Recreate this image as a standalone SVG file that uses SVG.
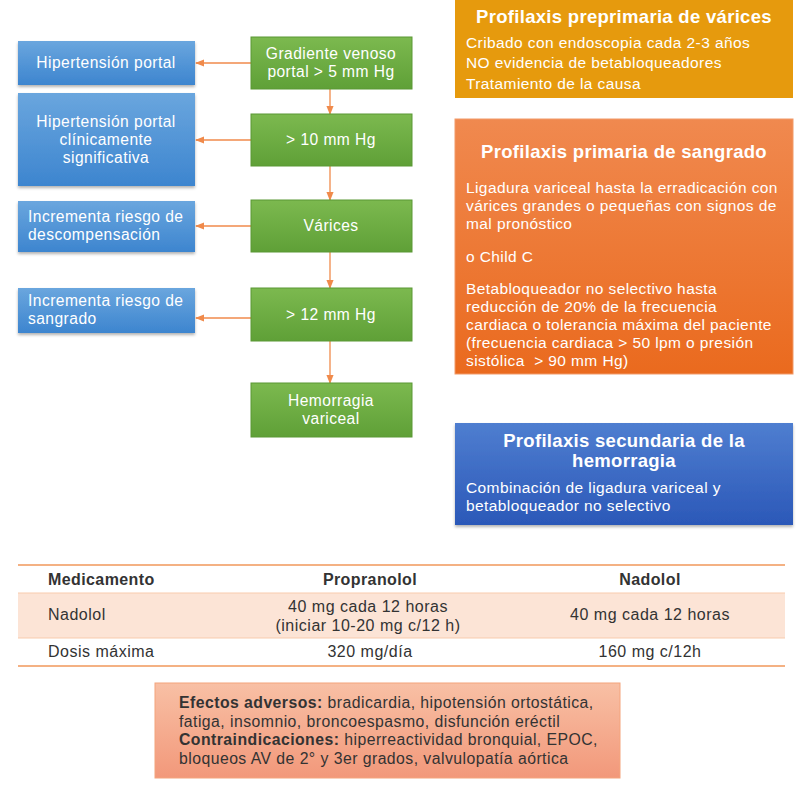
<svg xmlns="http://www.w3.org/2000/svg" width="800" height="803" viewBox="0 0 800 803">
<defs>
<linearGradient id="gBlue" x1="0" y1="0" x2="0" y2="1"><stop offset="0" stop-color="#6aa6de"/><stop offset="1" stop-color="#3d85cf"/></linearGradient>
<linearGradient id="gGreen" x1="0" y1="0" x2="0" y2="1"><stop offset="0" stop-color="#7cb94f"/><stop offset="1" stop-color="#5fa037"/></linearGradient>
<linearGradient id="gOr" x1="0" y1="0" x2="0" y2="1"><stop offset="0" stop-color="#f0894f"/><stop offset="1" stop-color="#ea6a1e"/></linearGradient>
<linearGradient id="gSec" x1="0" y1="0" x2="0" y2="1"><stop offset="0" stop-color="#4f7ed0"/><stop offset="1" stop-color="#2b58b8"/></linearGradient>
<linearGradient id="gPeach" x1="0" y1="0" x2="0" y2="1"><stop offset="0" stop-color="#f8c0a5"/><stop offset="1" stop-color="#f2987a"/></linearGradient>
<marker id="ah" viewBox="0 0 10 10" refX="9" refY="5" markerWidth="7" markerHeight="7" orient="auto"><path d="M0,1 L10,5 L0,9 z" fill="#f08a4b"/></marker>
<filter id="sh" x="-5%" y="-5%" width="110%" height="120%"><feDropShadow dx="0" dy="2" stdDeviation="1.5" flood-color="#000" flood-opacity="0.3"/></filter>
</defs>
<style>
text{font-family:"Liberation Sans",Arial,sans-serif;}
.n{fill:#fff;font-size:15.6px;letter-spacing:0.45px;}
.nc{fill:#fff;font-size:15.6px;letter-spacing:0.45px;text-anchor:middle;}
.w{fill:#fff;font-size:15.5px;letter-spacing:0.4px;}
.wb{fill:#fff;font-size:18.5px;font-weight:bold;text-anchor:middle;letter-spacing:0.3px;}
.bl{fill:url(#gBlue);filter:url(#sh);}
.gr{fill:url(#gGreen);stroke:#5a9834;stroke-width:1;}
.con{stroke:#f08a4b;stroke-width:1.3;fill:none;marker-end:url(#ah);}
.t{fill:#333;font-size:16px;letter-spacing:0.5px;}
.tc{fill:#333;font-size:16px;letter-spacing:0.5px;text-anchor:middle;}
.th{fill:#333;font-size:16px;font-weight:bold;letter-spacing:0.4px;}
.ae{fill:#333;font-size:15.8px;letter-spacing:0.45px;}
</style>
<rect width="800" height="803" fill="#fff"/>

<g id="connectors">
<line class="con" x1="251" y1="63" x2="196" y2="63"/>
<line class="con" x1="251" y1="140" x2="196" y2="140"/>
<line class="con" x1="251" y1="226" x2="196" y2="226"/>
<line class="con" x1="251" y1="318" x2="196" y2="318"/>
<line class="con" x1="330" y1="89" x2="330" y2="114"/>
<line class="con" x1="330" y1="166" x2="330" y2="200"/>
<line class="con" x1="330" y1="252" x2="330" y2="288"/>
<line class="con" x1="330" y1="341" x2="330" y2="383"/>
</g>

<g id="b1"><rect class="bl" x="18" y="41" width="177" height="44"/><text class="nc" x="106" y="68">Hipertensión portal</text></g>
<g id="b2"><rect class="bl" x="18" y="93" width="177" height="93"/><text class="nc" x="106" y="127">Hipertensión portal</text><text class="nc" x="106" y="145">clínicamente</text><text class="nc" x="106" y="163">significativa</text></g>
<g id="b3"><rect class="bl" x="18" y="201" width="177" height="51"/><text class="n" x="28" y="222">Incrementa riesgo de</text><text class="n" x="28" y="240">descompensación</text></g>
<g id="b4"><rect class="bl" x="18" y="288" width="177" height="45"/><text class="n" x="28" y="306">Incrementa riesgo de</text><text class="n" x="28" y="324">sangrado</text></g>

<g id="g1"><rect class="gr" x="251" y="37" width="161" height="52"/><text class="nc" x="331" y="59">Gradiente venoso</text><text class="nc" x="331" y="77">portal &gt; 5 mm Hg</text></g>
<g id="g2"><rect class="gr" x="251" y="114" width="161" height="52"/><text class="nc" x="331" y="145">&gt; 10 mm Hg</text></g>
<g id="g3"><rect class="gr" x="251" y="200" width="161" height="52"/><text class="nc" x="331" y="231">Várices</text></g>
<g id="g4"><rect class="gr" x="251" y="288" width="161" height="53"/><text class="nc" x="331" y="320">&gt; 12 mm Hg</text></g>
<g id="g5"><rect class="gr" x="251" y="383" width="161" height="54"/><text class="nc" x="331" y="406">Hemorragia</text><text class="nc" x="331" y="424">variceal</text></g>

<g id="pre"><rect x="455" y="0" width="338" height="98" fill="#e69a0d"/>
<text class="wb" x="624" y="23">Profilaxis preprimaria de várices</text>
<text class="w" x="466" y="48">Cribado con endoscopia cada 2-3 años</text>
<text class="w" x="466" y="68">NO evidencia de betabloqueadores</text>
<text class="w" x="466" y="89">Tratamiento de la causa</text></g>

<g id="prim"><rect x="455" y="119" width="338" height="255" fill="url(#gOr)" stroke="#f29a68" stroke-width="1"/>
<text class="wb" x="624" y="158">Profilaxis primaria de sangrado</text>
<text class="w" x="466" y="193">Ligadura variceal hasta la erradicación con</text>
<text class="w" x="466" y="211">várices grandes o pequeñas con signos de</text>
<text class="w" x="466" y="229">mal pronóstico</text>
<text class="w" x="466" y="262">o Child C</text>
<text class="w" x="466" y="294">Betabloqueador no selectivo hasta</text>
<text class="w" x="466" y="312">reducción de 20% de la frecuencia</text>
<text class="w" x="466" y="330">cardiaca o tolerancia máxima del paciente</text>
<text class="w" x="466" y="348">(frecuencia cardiaca &gt; 50 lpm o presión</text>
<text class="w" x="466" y="366">sistólica &#160;&gt; 90 mm Hg)</text></g>

<g id="sec"><rect x="455" y="423" width="338" height="102" fill="url(#gSec)" filter="url(#sh)"/>
<text class="wb" x="624" y="447">Profilaxis secundaria de la</text>
<text class="wb" x="624" y="467">hemorragia</text>
<text class="w" x="466" y="493">Combinación de ligadura variceal y</text>
<text class="w" x="466" y="511">betabloqueador no selectivo</text></g>

<g id="table">
<rect x="18" y="593" width="767" height="45" fill="#fce4d6"/>
<line x1="18" y1="565" x2="785" y2="565" stroke="#f4b183" stroke-width="2"/>
<line x1="18" y1="593" x2="785" y2="593" stroke="#f8cbad" stroke-width="1"/>
<line x1="18" y1="638" x2="785" y2="638" stroke="#f8cbad" stroke-width="1"/>
<line x1="18" y1="666" x2="785" y2="666" stroke="#f4b183" stroke-width="2"/>
<text class="th" x="48" y="585">Medicamento</text>
<text class="th" x="370" y="585" text-anchor="middle">Propranolol</text>
<text class="th" x="650" y="585" text-anchor="middle">Nadolol</text>
<text class="t" x="48" y="620">Nadolol</text>
<text class="tc" x="368" y="612">40 mg cada 12 horas</text>
<text class="tc" x="368" y="631">(iniciar 10-20 mg c/12 h)</text>
<text class="tc" x="650" y="620">40 mg cada 12 horas</text>
<text class="t" x="48" y="657">Dosis máxima</text>
<text class="tc" x="370" y="657">320 mg/día</text>
<text class="tc" x="650" y="657">160 mg c/12h</text>
</g>

<g id="efectos"><rect x="155" y="683" width="465" height="95" fill="url(#gPeach)" stroke="#f4a47c" stroke-width="1"/>
<text class="ae" x="179" y="708"><tspan font-weight="bold">Efectos adversos:</tspan> bradicardia, hipotensión ortostática,</text>
<text class="ae" x="179" y="726.5">fatiga, insomnio, broncoespasmo, disfunción eréctil</text>
<text class="ae" x="179" y="745"><tspan font-weight="bold">Contraindicaciones:</tspan> hiperreactividad bronquial, EPOC,</text>
<text class="ae" x="179" y="763.5">bloqueos AV de 2° y 3er grados, valvulopatía aórtica</text></g>
</svg>
